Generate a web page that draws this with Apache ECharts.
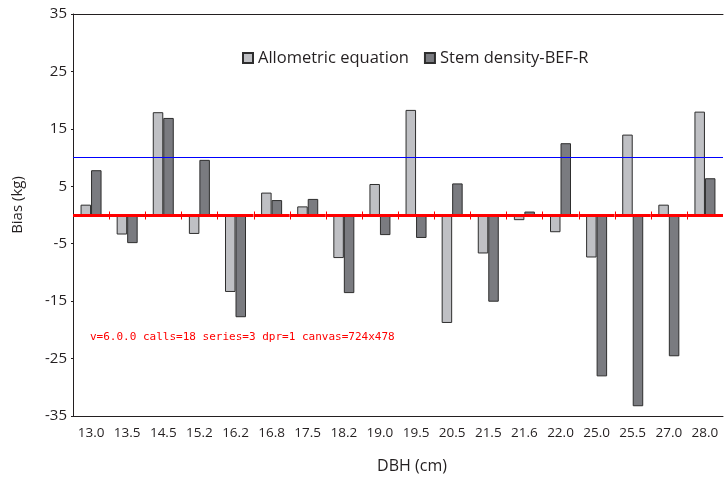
<!DOCTYPE html>
<html>
<head>
<meta charset="utf-8">
<script src="https://cdn.jsdelivr.net/npm/echarts@6/dist/echarts.min.js"></script>
<style>
html,body{margin:0;padding:0;background:#fff;}
#chart{width:724px;height:478px;}
#dbg{position:absolute;left:90px;top:330px;font:11px monospace;color:red;width:600px;}
</style>
</head>
<body>
<div id="chart"></div>
<div id="dbg"></div>
<script>
var dbg = [];
var categories = ['13.0','13.5','14.5','15.2','16.2','16.8','17.5','18.2','19.0','19.5','20.5','21.5','21.6','22.0','25.0','25.5','27.0','28.0'];
var allometric = [1.8,-3.4,17.9,-3.3,-13.4,3.9,1.5,-7.5,5.4,18.3,-18.8,-6.7,-0.9,-3.0,-7.4,14.0,1.8,18.0];
var stemDensity = [7.8,-4.9,16.9,9.6,-17.8,2.6,2.8,-13.6,-3.5,-4.0,5.5,-15.1,0.6,12.5,-28.1,-33.3,-24.6,6.4];
var yTicks = {min:-35, max:35, interval:10};

var FONT = 'Open Sans';
var INK = '#231f20';
var calls = 0;
var chart = echarts.init(document.getElementById('chart'), null, {renderer:'canvas'});

function zeroLineItem(params, api){
  calls++;
  var idx = api.value(0);
  var p = api.coord([idx, 0]);
  var w = api.size([1, 0])[0];
  var y = Math.round(p[1]) + 0.5;
  var x0 = Math.round(p[0] - w / 2) + 0.5;
  var x1 = p[0] + w / 2;
  var children = [{type:'line', shape:{x1:x0 - 0.5, y1:y, x2:x1, y2:y}, style:{stroke:'red', lineWidth:3}}];
  if (idx > 0) {
    children.push({type:'line', shape:{x1:x0, y1:y - 4, x2:x0, y2:y + 4}, style:{stroke:'red', lineWidth:1}});
  }
  return {type:'group', children:children};
}

try {
chart.setOption({
  animation:false,
  textStyle:{fontFamily:FONT},
  grid:{left:73, top:14, right:1, bottom:62, containLabel:false},
  legend:{
    left:242, top:48, padding:0, itemWidth:10, itemHeight:10, itemGap:15,
    icon:'rect',
    textStyle:{fontFamily:FONT, fontSize:16.5, lineHeight:20, color:INK},
    data:['Allometric equation','Stem density-BEF-R']
  },
  graphic:[
    {type:'text', x:412, y:466, style:{text:'DBH (cm)', font:'16px "Open Sans"', fill:INK, align:'center', verticalAlign:'middle'}},
    {type:'text', x:18, y:205, rotation:Math.PI/2, style:{text:'Bias (kg)', font:'15px "Open Sans"', fill:INK, align:'center', verticalAlign:'middle'}}
  ],
  xAxis:[
    {
      type:'category', data:categories, position:'bottom', boundaryGap:true,
      axisLine:{show:true, onZero:false, lineStyle:{color:INK,width:1}},
      axisTick:{show:false},
      axisLabel:{show:true, interval:0, margin:10, fontFamily:FONT, fontSize:13.5, color:INK}
    },
    {
      type:'category', data:categories, position:'top', boundaryGap:true,
      axisLine:{show:true, onZero:false, lineStyle:{color:INK,width:1}},
      axisTick:{show:false}, axisLabel:{show:false}, splitLine:{show:false}
    }
  ],
  yAxis:{
    type:'value', min:yTicks.min, max:yTicks.max, interval:yTicks.interval,
    axisLine:{show:true, onZero:false, lineStyle:{color:INK,width:1}},
    axisTick:{show:true, length:2, lineStyle:{color:INK}},
    axisLabel:{margin:6, fontFamily:FONT, fontSize:15, color:INK},
    splitLine:{show:false}
  },
  series:[
    {
      name:'Allometric equation', type:'bar', data:allometric, xAxisIndex:0,
      barWidth:10.5, barGap:'0%',
      itemStyle:{color:'#bfc0c4', borderColor:'#2e2e2e', borderWidth:1},
      markLine:{
        silent:true, symbol:'none', animation:false,
        label:{show:false},
        lineStyle:{color:'blue', width:1, type:'solid'},
        data:[{yAxis:10}]
      }
    },
    {
      name:'Stem density-BEF-R', type:'bar', data:stemDensity, xAxisIndex:0,
      barWidth:10.5, barGap:'0%',
      itemStyle:{color:'#7a7b80', borderColor:'#2e2e2e', borderWidth:1}
    },
    {
      name:'zero', type:'custom', xAxisIndex:0, z:5, silent:true,
      data:categories.map(function(c, i){ return [i, 0]; }),
      encode:{x:0, y:1},
      renderItem:zeroLineItem
    }
  ]
});
} catch (e) { dbg.push('ERR ' + e.message); }
dbg.push('v=' + echarts.version + ' calls=' + calls + ' series=' + chart.getOption().series.length + ' dpr=' + window.devicePixelRatio + ' canvas=' + document.querySelector('canvas').width + 'x' + document.querySelector('canvas').height);
document.getElementById('dbg').textContent = dbg.join(' | ');
</script>
</body>
</html>
